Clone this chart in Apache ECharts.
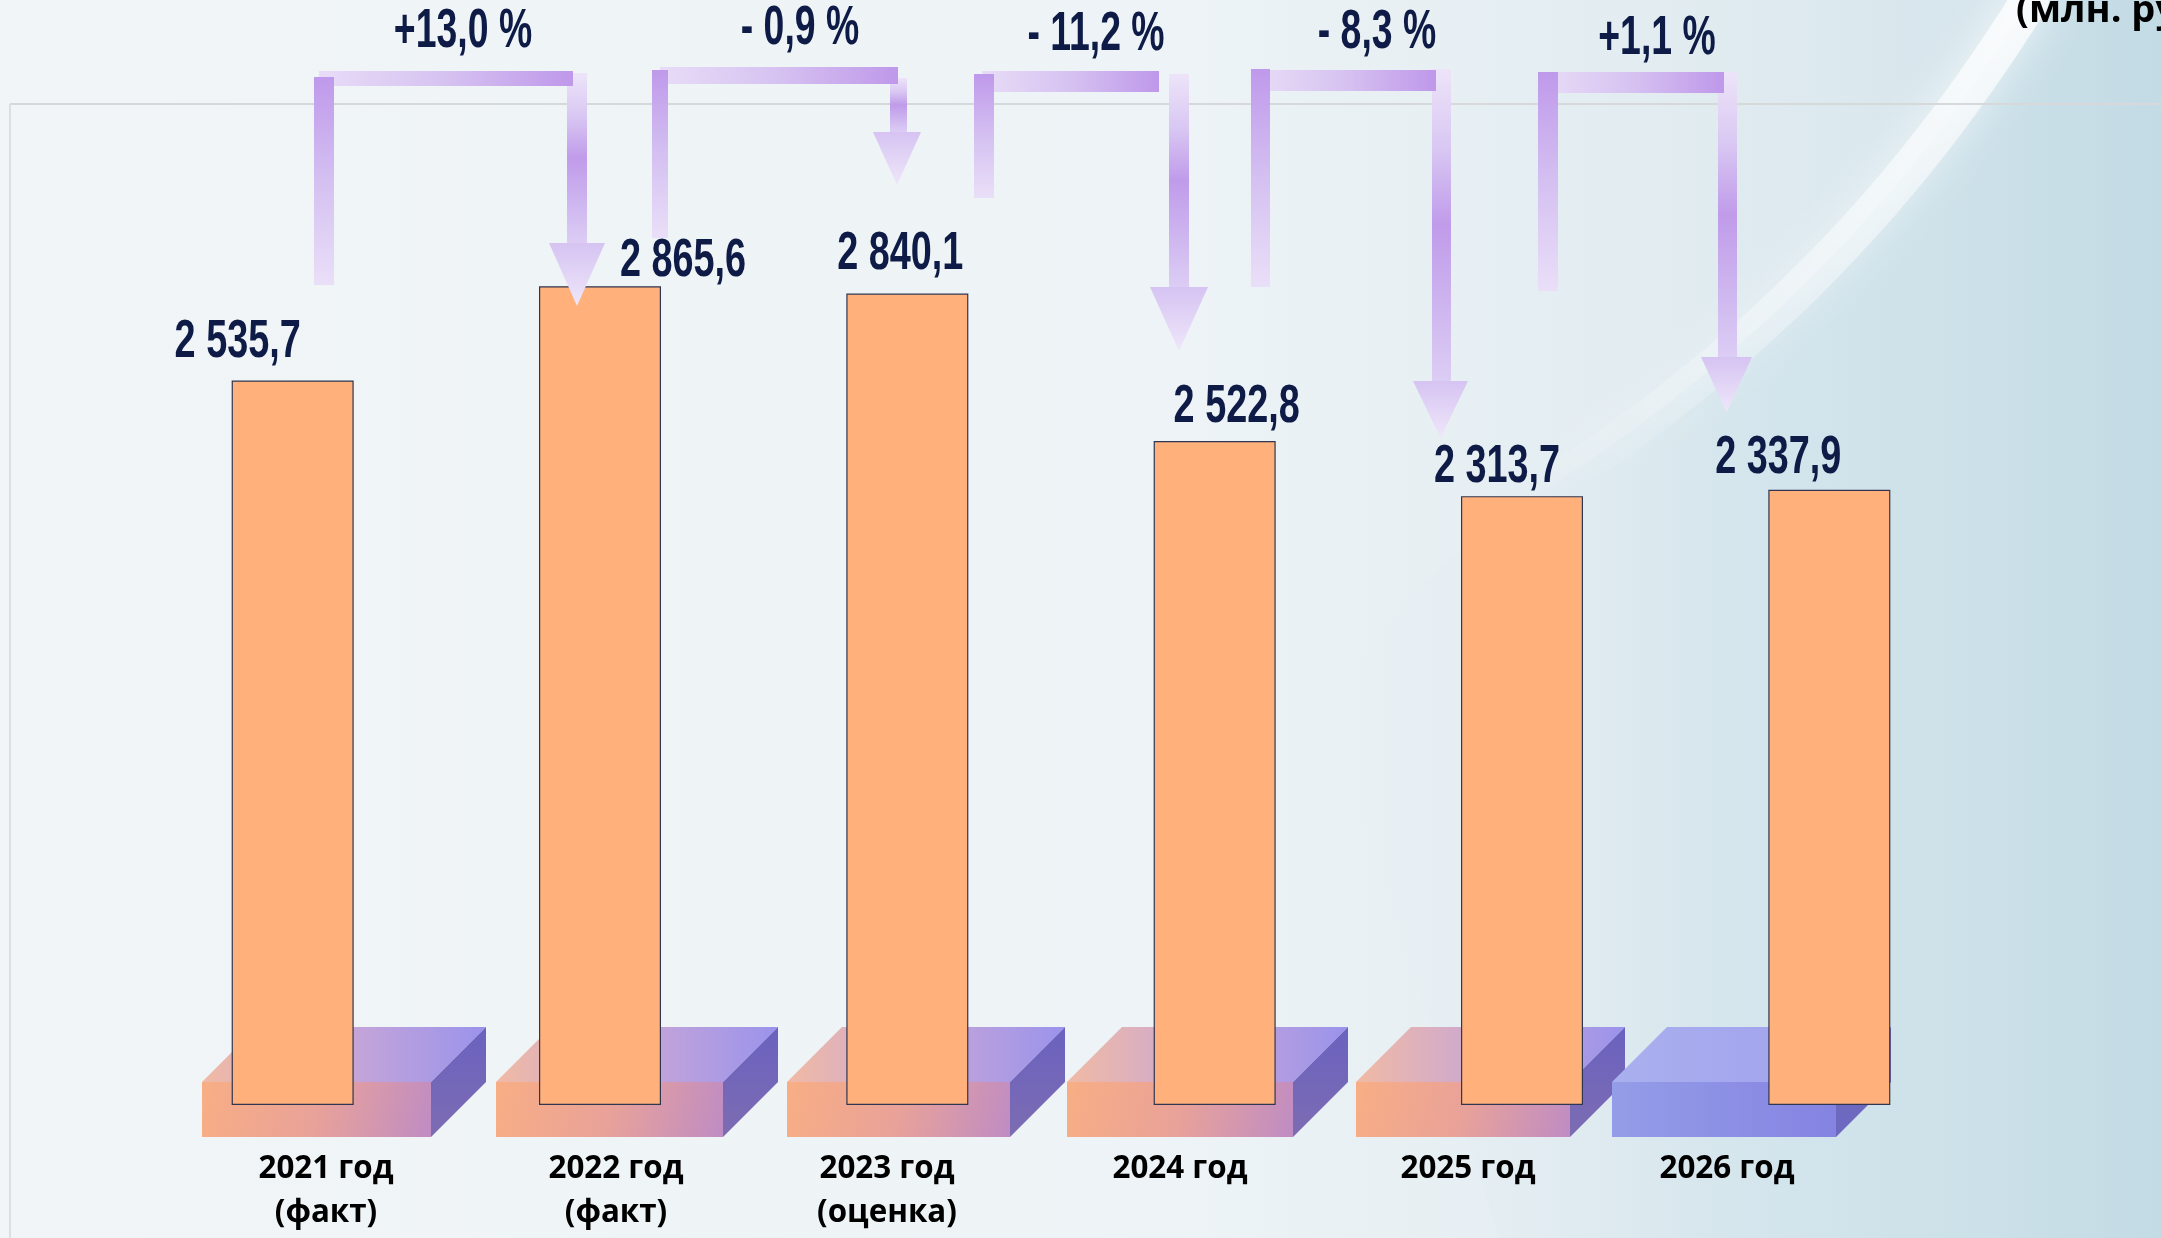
<!DOCTYPE html>
<html>
<head>
<meta charset="utf-8">
<title>Доходы бюджета</title>
<script src="https://cdn.jsdelivr.net/npm/echarts@6/dist/echarts.min.js"></script>
<style>
html, body { margin: 0; padding: 0; }
#main { width: 2161px; height: 1238px; }
</style>
</head>
<body>
<div id="main"></div>
<script>
// data
const categories = ['2021 год\n(факт)', '2022 год\n(факт)', '2023 год\n(оценка)', '2024 год', '2025 год', '2026 год'];
const values = [2535.7, 2865.6, 2840.1, 2522.8, 2313.7, 2337.9];
const changes = ['+13,0 %', '- 0,9 %', '- 11,2 %', '- 8,3 %', '+1,1 %'];
const unitText = '(млн. рублей)';
const planFrom = 3; // 2024-2026 drawn on their own scale, as in the original slide

// layout of the decorations (pixels)
const labelShift = [[-55, -38], [83, -25], [-7, -39], [22, -34], [-25, -29], [-51, -32]];
const pedLeft = [202, 496, 787, 1067, 1356, 1612];
const pedWidth = [229, 227, 223, 226, 214, 224];
const catX = [326, 616, 887, 1180, 1468, 1727];
const changePos = [[463, 32], [800, 29], [1096, 35], [1377, 33], [1657, 39]];
const arrows = [
  { l: [314, 334, 77, 285], h: [319, 573, 71, 86], r: [567, 587, 73, 243], head: [549, 605, 243, 306] },
  { l: [652, 668, 70, 238], h: [660, 898, 67, 84], r: [890, 907, 78, 132], head: [873, 921, 132, 185] },
  { l: [974, 994, 74, 198], h: [982, 1159, 71, 92], r: [1169, 1189, 74, 287], head: [1150, 1208, 287, 351] },
  { l: [1251, 1270, 69, 287], h: [1256, 1436, 70, 91], r: [1432, 1451, 69, 381], head: [1413, 1468, 381, 438] },
  { l: [1538, 1558, 72, 291], h: [1542, 1724, 72, 93], r: [1718, 1737, 72, 357], head: [1701, 1752, 357, 412] }
];
const swoosh = [
  [[2030, 0], [1930, 160], [1790, 330], [1560, 480]],
  [[1560, 480], [1420, 570], [1360, 640], [1330, 720]]
];

const numFont = '"Liberation Sans", Arial, sans-serif';
const capFont = '"Open Sans", sans-serif';
const navy = '#0e1b46';

function fmt(v) {
  const parts = v.toFixed(1).split('.');
  return parts[0].replace(/\B(?=(\d{3})+(?!\d))/g, ' ') + ',' + parts[1];
}

function grad(x2, y2, colors) {
  return {
    type: 'linear', x: 0, y: 0, x2: x2, y2: y2,
    colorStops: colors.map((c, i) => ({ offset: i / (colors.length - 1), color: c }))
  };
}

function bezierPoints(segs, n) {
  const pts = [];
  segs.forEach(s => {
    for (let k = 0; k <= n; k++) {
      const t = k / n, u = 1 - t;
      const a = u * u * u, b = 3 * u * u * t, c = 3 * u * t * t, d = t * t * t;
      pts.push([a * s[0][0] + b * s[1][0] + c * s[2][0] + d * s[3][0],
                a * s[0][1] + b * s[1][1] + c * s[2][1] + d * s[3][1]]);
    }
  });
  return pts;
}

const graphics = [];

// background: soft blue on the right, white swoosh at the top right
const curve = bezierPoints(swoosh, 24);
graphics.push({
  type: 'polygon', z: -5, silent: true,
  shape: { points: [[2161, 0]].concat(curve, [[1500, 1238], [2161, 1238]]) },
  style: { fill: grad(1, 0, ['rgba(214,230,237,0)', 'rgba(214,230,237,0.15)', 'rgba(210,228,236,0.8)', '#cde1e9', '#c3dbe5']) }
});
graphics.push({
  type: 'polyline', z: -4, silent: true,
  shape: { points: bezierPoints([swoosh[0]], 24) },
  style: {
    fill: null, stroke: grad(0, 1, ['rgba(255,255,255,0.8)', 'rgba(255,255,255,0.45)', 'rgba(255,255,255,0)']),
    lineWidth: 38, lineCap: 'round', shadowBlur: 40, shadowColor: 'rgba(255,255,255,0.9)'
  }
});

// plot frame
graphics.push({ type: 'line', z: -1, silent: true, shape: { x1: 10, y1: 104, x2: 2161, y2: 104 }, style: { stroke: '#d6d8da', lineWidth: 2 } });
graphics.push({ type: 'line', z: -1, silent: true, shape: { x1: 10, y1: 104, x2: 10, y2: 1238 }, style: { stroke: '#dcdfe1', lineWidth: 2 } });

// pedestals
const pedTop = 1082, pedH = 55, depth = 55;
pedLeft.forEach((x, i) => {
  const w = pedWidth[i];
  const blue = i === pedLeft.length - 1;
  graphics.push({
    type: 'polygon', z: 1, silent: true,
    shape: { points: [[x, pedTop], [x + depth, pedTop - depth], [x + w + depth, pedTop - depth], [x + w, pedTop]] },
    style: { fill: blue ? grad(1, 0, ['#a9b0ee', '#9f9ded']) : grad(1, 0, ['#f1baa4', '#c8a6d7', '#9a93ec']) }
  });
  graphics.push({
    type: 'polygon', z: 1, silent: true,
    shape: { points: [[x + w, pedTop], [x + w + depth, pedTop - depth], [x + w + depth, pedTop], [x + w, pedTop + pedH]] },
    style: { fill: blue ? '#6d69c0' : grad(0, 1, ['#6a62c0', '#7d6cb2']) }
  });
  graphics.push({
    type: 'rect', z: 1, silent: true,
    shape: { x: x, y: pedTop, width: w, height: pedH },
    style: { fill: blue ? grad(1, 0, ['#949de7', '#8583e2']) : grad(1, 1, ['#f8ae84', '#e9a299', '#bf8cc4']) }
  });
});

// category captions under the pedestals
categories.forEach((c, i) => {
  graphics.push({
    type: 'text', z: 5, x: catX[i], y: 1147, scaleX: 0.95,
    style: {
      text: c, fill: '#000', fontFamily: capFont, fontWeight: 'bold',
      fontSize: 33, lineHeight: 44, align: 'center', verticalAlign: 'top'
    }
  });
});

// change arrows
arrows.forEach(a => {
  graphics.push({
    type: 'rect', z: 10, silent: true,
    shape: { x: a.h[0], y: a.h[2], width: a.h[1] - a.h[0], height: a.h[3] - a.h[2] },
    style: { fill: grad(1, 0, ['#e8dcf7', '#d6c2f1', '#bf98ea']) }
  });
  graphics.push({
    type: 'rect', z: 11, silent: true,
    shape: { x: a.l[0], y: a.l[2], width: a.l[1] - a.l[0], height: a.l[3] - a.l[2] },
    style: { fill: grad(0, 1, ['#bf99eb', '#d4c0f1', '#eadff8']) }
  });
  graphics.push({
    type: 'rect', z: 9, silent: true,
    shape: { x: a.r[0], y: a.r[2], width: a.r[1] - a.r[0], height: a.r[3] - a.r[2] },
    style: { fill: grad(0, 1, ['#ede4f9', '#d9c8f3', '#c09bea', '#cdb4ef', '#dccdf4']) }
  });
  const cx = (a.head[0] + a.head[1]) / 2;
  graphics.push({
    type: 'polygon', z: 11, silent: true,
    shape: { points: [[a.head[0], a.head[2]], [a.head[1], a.head[2]], [cx, a.head[3]]] },
    style: { fill: grad(0, 1, ['#d6c3f2', '#e2d5f6', '#efe7fa']) }
  });
});

changes.forEach((t, i) => {
  graphics.push({
    type: 'text', z: 12, x: changePos[i][0], y: changePos[i][1], scaleX: 0.68,
    style: {
      text: t, fill: navy, fontFamily: numFont, fontWeight: 'bold',
      fontSize: 55, align: 'center', verticalAlign: 'middle'
    }
  });
});

graphics.push({
  type: 'text', z: 12, x: 2016, y: 11,
  style: {
    text: unitText, fill: '#000', fontFamily: capFont, fontWeight: 'bold',
    fontSize: 38, align: 'left', verticalAlign: 'middle'
  }
});

const barSeries = (name, plan, axis) => ({
  name: name,
  type: 'bar',
  yAxisIndex: axis,
  barWidth: 122,
  barGap: '-100%',
  data: values.map((v, i) => ((i >= planFrom) === plan ? v : '-')),
  itemStyle: { color: '#ffb07b', borderColor: '#2f3651', borderWidth: 1.2 }
});

// value captions, placed through the same axes as the bars
const labelSeries = (plan, axis) => ({
  type: 'custom',
  yAxisIndex: axis,
  z: 5,
  silent: true,
  data: values.map((v, i) => [i, v]).filter(d => (d[0] >= planFrom) === plan),
  renderItem: (params, api) => {
    const i = api.value(0);
    const p = api.coord([i, api.value(1)]);
    return {
      type: 'text',
      x: p[0] + labelShift[i][0],
      y: p[1] + labelShift[i][1],
      scaleX: 0.7,
      style: {
        text: fmt(api.value(1)), fill: navy, fontFamily: numFont, fontWeight: 'bold',
        fontSize: 54, align: 'center', verticalAlign: 'middle'
      }
    };
  }
});

const option = {
  animation: false,
  backgroundColor: {
    type: 'linear', x: 0, y: 0, x2: 1, y2: 0,
    colorStops: [
      { offset: 0, color: '#f1f5f7' },
      { offset: 0.55, color: '#edf3f6' },
      { offset: 0.8, color: '#e0ebf0' },
      { offset: 1, color: '#cfe2ea' }
    ]
  },
  grid: { left: 139, right: 178, top: 105, bottom: 133 },
  xAxis: { type: 'category', data: categories, show: false },
  yAxis: [
    { type: 'value', min: 0, max: 3500, show: false },
    { type: 'value', min: 0, max: 3800, show: false }
  ],
  series: [
    barSeries('2021–2023', false, 0),
    barSeries('2024–2026', true, 1),
    labelSeries(false, 0),
    labelSeries(true, 1)
  ],
  graphic: graphics
};

const chart = echarts.init(document.getElementById('main'));
chart.setOption(option);
</script>
</body>
</html>
